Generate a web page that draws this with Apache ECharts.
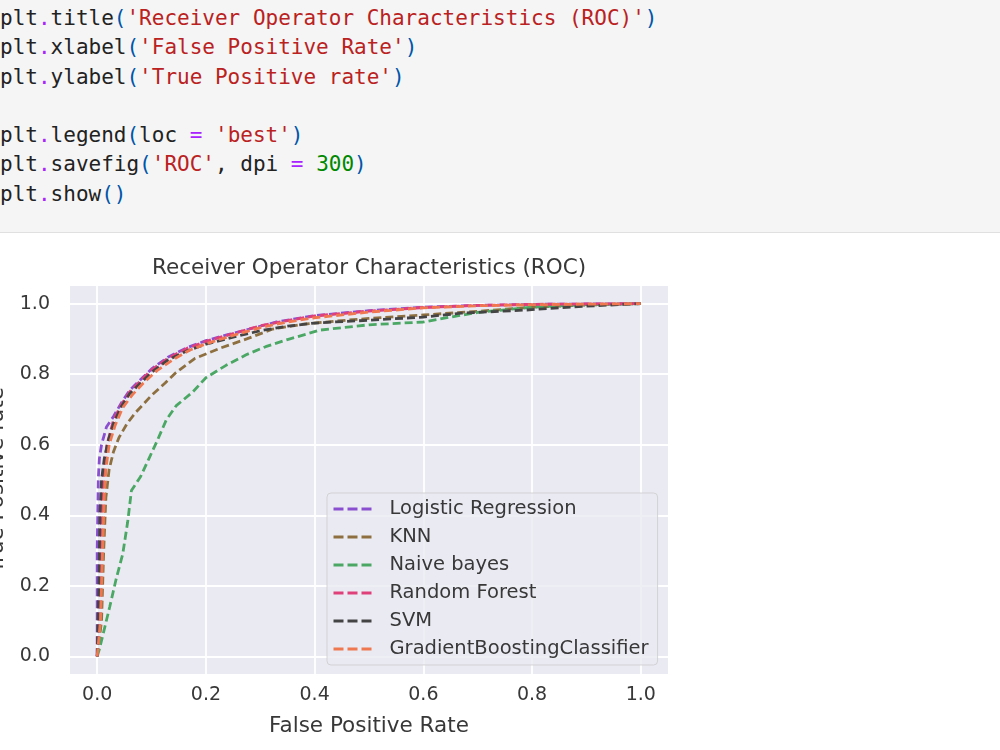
<!DOCTYPE html>
<html>
<head>
<meta charset="utf-8">
<title>ROC</title>
<script src="https://cdn.jsdelivr.net/npm/echarts@6/dist/echarts.min.js"></script>
<style>
  html, body { margin: 0; padding: 0; background: #fff; }
  body { width: 1000px; height: 750px; position: relative; overflow: hidden; }
  #code { position: absolute; left: 0; top: 0; width: 1000px; height: 232px; background: #f5f5f5; border-bottom: 1px solid #e0e0e0; }
  #code pre { margin: 0; padding: 4px 0 0 0; font-family: "DejaVu Sans Mono", monospace; font-size: 21px; line-height: 29.3px; color: #222; }
  .op { color: #a2f; }
  .str { color: #ba2121; }
  .num { color: #080; }
  .br { color: #05a; }
  #chart { position: absolute; left: 0; top: 0; width: 1000px; height: 750px; }
</style>
</head>
<body>
<div id="code"><pre>plt<span class="op">.</span>title<span class="br">(</span><span class="str">'Receiver Operator Characteristics (ROC)'</span><span class="br">)</span>
plt<span class="op">.</span>xlabel<span class="br">(</span><span class="str">'False Positive Rate'</span><span class="br">)</span>
plt<span class="op">.</span>ylabel<span class="br">(</span><span class="str">'True Positive rate'</span><span class="br">)</span>

plt<span class="op">.</span>legend<span class="br">(</span>loc <span class="op">=</span> <span class="str">'best'</span><span class="br">)</span>
plt<span class="op">.</span>savefig<span class="br">(</span><span class="str">'ROC'</span>, dpi <span class="op">=</span> <span class="num">300</span><span class="br">)</span>
plt<span class="op">.</span>show<span class="br">()</span></pre></div>
<div id="chart"></div>
<script>
  // tick positions (axes run from -0.05 to 1.05 like matplotlib margins)
  var tickValues = [0, 0.2, 0.4, 0.6, 0.8, 1.0];

  var modelNames = ['Logistic Regression', 'KNN', 'Naive bayes', 'Random Forest', 'SVM', 'GradientBoostingClassifier'];
  var modelColors = ['#8a4fd0', '#8e7040', '#4aa864', '#e0407a', '#444444', '#f07850'];

  // [fpr, tpr] points
  var rocLR = [[0, 0], [0, 0.3], [0.002, 0.5], [0.004, 0.56], [0.008, 0.6], [0.017, 0.65], [0.03, 0.68],
    [0.045, 0.72], [0.06, 0.755], [0.08, 0.785], [0.1, 0.815], [0.13, 0.848], [0.165, 0.875], [0.2, 0.895],
    [0.24, 0.912], [0.29, 0.932], [0.33, 0.948], [0.4, 0.966], [0.5, 0.98], [0.6, 0.99], [0.7, 0.995],
    [0.8, 0.998], [0.9, 0.999], [1, 1]];
  var rocKNN = [[0, 0], [0.008, 0.1], [0.012, 0.3], [0.016, 0.45], [0.022, 0.53], [0.03, 0.58], [0.04, 0.62],
    [0.055, 0.66], [0.07, 0.69], [0.1, 0.74], [0.125, 0.775], [0.145, 0.805], [0.18, 0.845], [0.225, 0.873],
    [0.275, 0.9], [0.323, 0.928], [0.38, 0.942], [0.45, 0.952], [0.5, 0.958], [0.6, 0.968], [0.7, 0.978],
    [0.8, 0.99], [0.9, 0.996], [1, 1]];
  var rocNB = [[0, 0], [0.004, 0.02], [0.012, 0.07], [0.023, 0.14], [0.035, 0.22], [0.047, 0.29], [0.056, 0.38],
    [0.063, 0.47], [0.08, 0.51], [0.095, 0.56], [0.11, 0.61], [0.127, 0.67], [0.145, 0.71], [0.176, 0.75],
    [0.2, 0.79], [0.237, 0.825], [0.274, 0.855], [0.31, 0.878], [0.35, 0.898], [0.41, 0.925], [0.5, 0.94],
    [0.6, 0.948], [0.65, 0.962], [0.7, 0.975], [0.8, 0.99], [0.9, 0.997], [1, 1]];
  var rocRF = [[0, 0], [0.005, 0.1], [0.007, 0.3], [0.009, 0.45], [0.012, 0.52], [0.018, 0.6], [0.03, 0.67],
    [0.045, 0.715], [0.06, 0.75], [0.08, 0.782], [0.1, 0.812], [0.13, 0.845], [0.165, 0.873], [0.2, 0.893],
    [0.25, 0.915], [0.3, 0.937], [0.35, 0.952], [0.4, 0.965], [0.5, 0.979], [0.6, 0.989], [0.7, 0.995],
    [0.8, 0.998], [1, 1]];
  var rocSVM = [[0, 0], [0.003, 0.2], [0.005, 0.4], [0.008, 0.5], [0.013, 0.56], [0.02, 0.61], [0.03, 0.66],
    [0.045, 0.71], [0.06, 0.745], [0.08, 0.775], [0.1, 0.805], [0.13, 0.84], [0.165, 0.866], [0.2, 0.885],
    [0.25, 0.905], [0.3, 0.923], [0.35, 0.936], [0.4, 0.945], [0.5, 0.953], [0.6, 0.962], [0.67, 0.973],
    [0.79, 0.982], [0.9, 0.993], [1, 1]];
  var rocGB = [[0, 0], [0.006, 0.1], [0.01, 0.3], [0.013, 0.45], [0.016, 0.53], [0.022, 0.6], [0.033, 0.655],
    [0.047, 0.705], [0.065, 0.742], [0.085, 0.775], [0.11, 0.81], [0.14, 0.842], [0.17, 0.868], [0.2, 0.886],
    [0.25, 0.91], [0.3, 0.932], [0.35, 0.948], [0.4, 0.96], [0.5, 0.976], [0.6, 0.988], [0.7, 0.994],
    [0.8, 0.997], [1, 1]];

  var rocData = [rocLR, rocKNN, rocNB, rocRF, rocSVM, rocGB];

  var chart = echarts.init(document.getElementById('chart'), null, {renderer: 'canvas'});
  var font = '"DejaVu Sans", sans-serif';

  var series = modelNames.map(function (name, i) {
    return {
      name: name,
      type: 'line',
      data: rocData[i],
      symbol: 'none',
      smooth: false,
      color: modelColors[i],
      lineStyle: {color: modelColors[i], width: 2.8, type: [8, 4]},
      emphasis: {disabled: true}
    };
  });

  function axisCommon(name) {
    return {
      type: 'value',
      min: -0.05,
      max: 1.05,
      name: name,
      nameLocation: 'middle',
      nameTextStyle: {fontFamily: font, fontSize: 21.5, color: '#383838'},
      axisLine: {show: false},
      axisTick: {show: false, customValues: tickValues},
      axisLabel: {
        customValues: tickValues,
        fontFamily: font,
        fontSize: 19,
        color: '#383838',
        formatter: function (v) { return v.toFixed(1); }
      },
      splitLine: {show: true, lineStyle: {color: '#ffffff', width: 1.8}}
    };
  }

  var xAxis = axisCommon('False Positive Rate');
  xAxis.nameGap = 41;
  xAxis.axisLabel.margin = 12;
  var yAxis = axisCommon('True Positive rate');
  yAxis.nameGap = 56;
  yAxis.axisLabel.margin = 20;

  chart.setOption({
    backgroundColor: 'transparent',
    animation: false,
    title: {
      text: 'Receiver Operator Characteristics (ROC)',
      left: 369,
      top: 257,
      padding: 0,
      textAlign: 'center',
      textStyle: {fontFamily: font, fontSize: 21.5, fontWeight: 'normal', color: '#383838'}
    },
    grid: {
      left: 70,
      top: 286,
      width: 598,
      height: 388,
      containLabel: false,
      outerBoundsMode: 'none',
      show: true,
      backgroundColor: '#eaeaf2',
      borderWidth: 0
    },
    legend: {
      data: modelNames,
      orient: 'vertical',
      left: 327,
      top: 493,
      padding: [6, 9, 6, 5],
      itemWidth: 38,
      itemHeight: 14,
      itemGap: 8,
      itemStyle: {opacity: 0},
      lineStyle: {type: [10, 4], width: 3},
      backgroundColor: 'rgba(234,234,242,0.8)',
      borderColor: 'rgba(204,204,204,0.8)',
      borderWidth: 1,
      borderRadius: 4,
      textStyle: {fontFamily: font, fontSize: 19.5, color: '#383838', lineHeight: 20, padding: [0, 0, 0, 13]}
    },
    xAxis: xAxis,
    yAxis: yAxis,
    series: series
  });
</script>
</body>
</html>
